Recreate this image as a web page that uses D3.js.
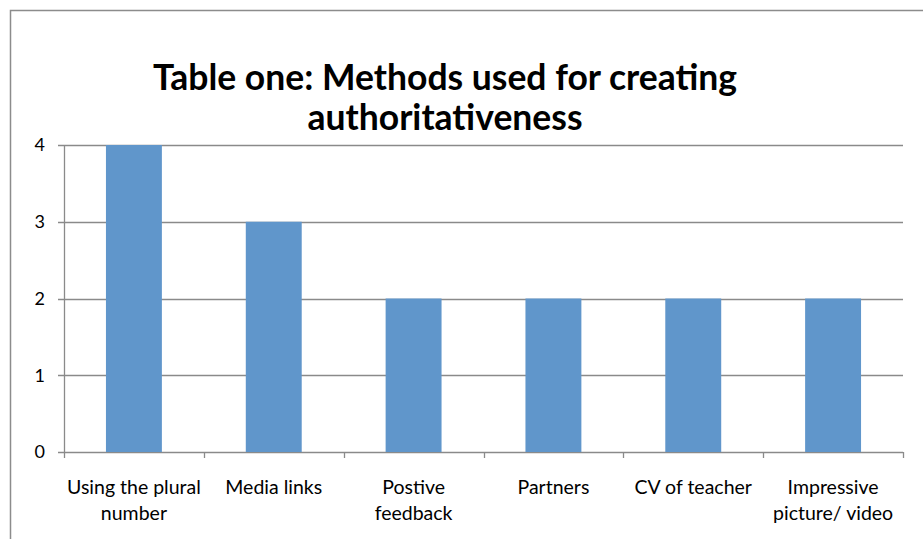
<!DOCTYPE html>
<html>
<head>
<meta charset="utf-8">
<script src="https://cdn.jsdelivr.net/npm/d3@7"></script>
<style>
  body { margin: 0; background: #fff; }
  svg { display: block; }
</style>
</head>
<body>
<div id="chart"></div>
<script>
// chart data
var categories = [
  ["Using the plural", "number"],
  ["Media links"],
  ["Postive", "feedback"],
  ["Partners"],
  ["CV of teacher"],
  ["Impressive", "picture/ video"]
];
var counts = [4, 3, 2, 2, 2, 2];
var yTicks = [0, 1, 2, 3, 4];
var titleLines = ["Table one: Methods used for creating", "authoritativeness"];

var width = 923, height = 539;
var margin = {top: 145, right: 20, bottom: 87, left: 64};

var svg = d3.select("#chart").append("svg")
    .attr("width", width)
    .attr("height", height);

// outer frame
svg.append("rect")
    .attr("x", 10.5)
    .attr("y", 10.5)
    .attr("width", 930)
    .attr("height", 560)
    .attr("fill", "none")
    .attr("stroke", "#8c8c8c")
    .attr("stroke-width", 1.5);

var x = d3.scaleBand()
    .domain(d3.range(categories.length))
    .range([margin.left, width - margin.right])
    .paddingInner(0.6)
    .paddingOuter(0.3);

var y = d3.scaleLinear()
    .domain([0, 4])
    .range([height - margin.bottom, margin.top]);

// gridlines
svg.append("g")
    .selectAll("line")
    .data(yTicks)
    .enter().append("line")
    .attr("x1", margin.left - 6)
    .attr("x2", width - margin.right)
    .attr("y1", function (d) { return Math.round(y(d)) + 0.5; })
    .attr("y2", function (d) { return Math.round(y(d)) + 0.5; })
    .attr("stroke", "#8a8a8a")
    .attr("stroke-width", 1.3);

// y axis line
svg.append("line")
    .attr("x1", margin.left + 0.5)
    .attr("x2", margin.left + 0.5)
    .attr("y1", y(4))
    .attr("y2", y(0))
    .attr("stroke", "#8a8a8a")
    .attr("stroke-width", 1.3);

// category ticks (band boundaries)
var edges = d3.range(categories.length + 1).map(function (i) {
    return margin.left + i * (width - margin.right - margin.left) / categories.length;
});
svg.append("g")
    .selectAll("line")
    .data(edges)
    .enter().append("line")
    .attr("x1", function (d) { return Math.round(d) + 0.5; })
    .attr("x2", function (d) { return Math.round(d) + 0.5; })
    .attr("y1", y(0))
    .attr("y2", y(0) + 6)
    .attr("stroke", "#8a8a8a")
    .attr("stroke-width", 1.3);

// bars
svg.append("g")
    .selectAll("rect")
    .data(counts)
    .enter().append("rect")
    .attr("x", function (d, i) { return x(i); })
    .attr("y", function (d) { return y(d); })
    .attr("width", x.bandwidth())
    .attr("height", function (d) { return y(0) - y(d); })
    .attr("fill", "#6096cb");

// y tick labels
svg.append("g")
    .selectAll("text")
    .data(yTicks)
    .enter().append("text")
    .attr("x", 45)
    .attr("y", function (d) { return y(d); })
    .attr("dy", "0.35em")
    .attr("text-anchor", "end")
    .style("font-family", "Lato, 'Open Sans', sans-serif")
    .style("font-size", "18px")
    .style("fill", "#000")
    .text(function (d) { return d; });

// category labels
var catLabels = svg.append("g")
    .selectAll("text")
    .data(categories)
    .enter().append("text")
    .attr("text-anchor", "middle")
    .style("font-family", "Lato, 'Open Sans', sans-serif")
    .style("font-size", "19.5px")
    .style("fill", "#000")
    .attr("transform", function (d, i) {
        return "translate(" + (x(i) + x.bandwidth() / 2) + "," + 494 + ")";
    });

catLabels.selectAll("tspan")
    .data(function (d) { return d; })
    .enter().append("tspan")
    .attr("x", 0)
    .attr("y", function (d, i) { return i * 26; })
    .text(function (d) { return d; });

// title
svg.append("text")
    .attr("text-anchor", "middle")
    .attr("transform", "translate(445,0)")
    .style("font-family", "Lato, 'Open Sans', sans-serif")
    .style("font-weight", "bold")
    .style("font-size", "35.5px")
    .style("fill", "#000")
    .selectAll("tspan")
    .data(titleLines)
    .enter().append("tspan")
    .attr("x", 0)
    .attr("y", function (d, i) { return 90 + i * 40; })
    .text(function (d) { return d; });
</script>
</body>
</html>
